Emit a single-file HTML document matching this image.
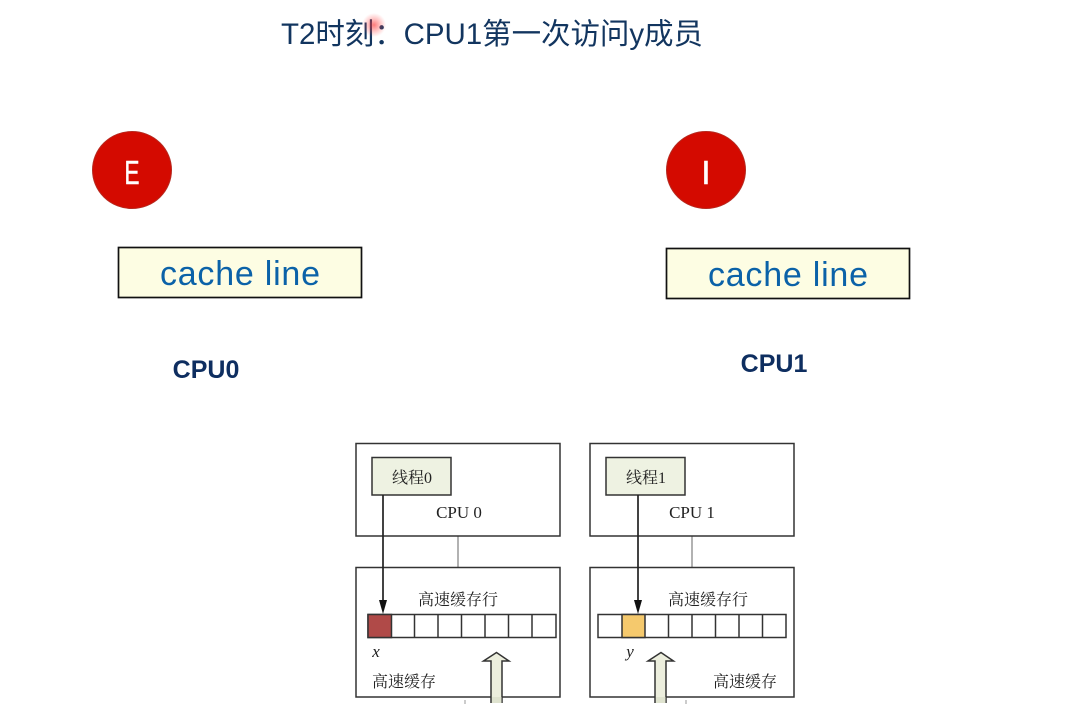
<!DOCTYPE html>
<html>
<head>
<meta charset="utf-8">
<style>
html,body{margin:0;padding:0;background:#fff;}
body{width:1067px;height:711px;overflow:hidden;position:relative;}
svg{position:absolute;left:0;top:0;}
text{white-space:pre;}
</style>
</head>
<body>
<svg width="1067" height="711" viewBox="0 0 1067 711" xmlns="http://www.w3.org/2000/svg">
<defs>
<radialGradient id="glow"><stop offset="0" stop-color="#f33" stop-opacity=".65"/><stop offset="1" stop-color="#f55" stop-opacity="0"/></radialGradient>
</defs>
<rect width="1067" height="711" fill="#fff"/>

<text x="281" y="44" font-family="'Liberation Sans','Noto Sans CJK SC',sans-serif" font-size="29.500" fill="#12355f" textLength="422" lengthAdjust="spacing">T2时刻：CPU1第一次访问y成员</text>
<circle cx="374" cy="25" r="12" fill="url(#glow)"/>

<ellipse cx="132" cy="170" rx="39.500" ry="38.500" fill="#d40a00" stroke="#b52a20"/>
<text x="132" y="184" text-anchor="middle" font-family="'Liberation Sans',sans-serif" font-size="33" fill="#fff" stroke="#fff" stroke-width="0.500" textLength="15" lengthAdjust="spacingAndGlyphs">E</text>
<ellipse cx="706" cy="170" rx="39.500" ry="38.500" fill="#d40a00" stroke="#b52a20"/>
<text x="706" y="184" text-anchor="middle" font-family="'Liberation Sans',sans-serif" font-size="33" fill="#fff" stroke="#fff" stroke-width="0.500">I</text>

<rect x="118.500" y="247.500" width="243" height="50" fill="#fdfde3" stroke="#111" stroke-width="1.700"/>
<text x="240" y="285" text-anchor="middle" font-family="'Liberation Sans',sans-serif" font-size="34" fill="#0b62a8" textLength="160" lengthAdjust="spacing">cache line</text>
<rect x="666.500" y="248.500" width="243" height="50" fill="#fdfde3" stroke="#111" stroke-width="1.700"/>
<text x="788" y="286" text-anchor="middle" font-family="'Liberation Sans',sans-serif" font-size="34" fill="#0b62a8" textLength="160" lengthAdjust="spacing">cache line</text>

<text x="206" y="378" text-anchor="middle" font-family="'Liberation Sans',sans-serif" font-weight="bold" font-size="25" fill="#0e2e60">CPU0</text>
<text x="774" y="372" text-anchor="middle" font-family="'Liberation Sans',sans-serif" font-weight="bold" font-size="25" fill="#0e2e60">CPU1</text>

<!-- left diagram -->
<g font-family="'Liberation Serif','Noto Serif CJK SC',serif" fill="#222">
<line x1="458" y1="536" x2="458" y2="567" stroke="#999" stroke-width="1.500"/>
<rect x="356" y="443.500" width="204" height="92.500" fill="#fff" stroke="#333" stroke-width="1.500"/>
<rect x="356" y="567.500" width="204" height="129.500" fill="#fff" stroke="#333" stroke-width="1.500"/>
<rect x="372" y="457.500" width="79" height="37.500" fill="#eef2e2" stroke="#333" stroke-width="1.500"/>
<text x="412" y="483" text-anchor="middle" font-size="16">线程0</text>
<text x="459" y="518" text-anchor="middle" font-size="17">CPU 0</text>
<text x="458" y="605" text-anchor="middle" font-size="16">高速缓存行</text>
<rect x="368" y="614.500" width="188" height="23" fill="#fff" stroke="#333" stroke-width="1.500"/>
<rect x="368" y="614.500" width="23.500" height="23" fill="#b04a48" stroke="#333" stroke-width="1.500"/>
<path d="M414.500 614.500V637.500M438 614.500V637.500M461.500 614.500V637.500M485 614.500V637.500M508.500 614.500V637.500M532 614.500V637.500" stroke="#333" stroke-width="1.500" fill="none"/>
<line x1="383" y1="495" x2="383" y2="602" stroke="#222" stroke-width="1.700"/>
<path d="M379 600H387L383 614Z" fill="#111"/>
<text x="376" y="657" text-anchor="middle" font-size="17" font-style="italic">x</text>
<text x="404" y="687" text-anchor="middle" font-size="16">高速缓存</text>
<path d="M491 703V661H483.500L496.500 652.500L509 661H502V703" fill="#eceedd" stroke="#333" stroke-width="1.500"/>
<rect x="492" y="697" width="9.500" height="6" fill="#dfe3cf"/>
<line x1="465" y1="700" x2="465" y2="704" stroke="#999"/>

<!-- right diagram -->
<line x1="692" y1="536" x2="692" y2="567" stroke="#999" stroke-width="1.500"/>
<rect x="590" y="443.500" width="204" height="92.500" fill="#fff" stroke="#333" stroke-width="1.500"/>
<rect x="590" y="567.500" width="204" height="129.500" fill="#fff" stroke="#333" stroke-width="1.500"/>
<rect x="606" y="457.500" width="79" height="37.500" fill="#eef2e2" stroke="#333" stroke-width="1.500"/>
<text x="646" y="483" text-anchor="middle" font-size="16">线程1</text>
<text x="692" y="518" text-anchor="middle" font-size="17">CPU 1</text>
<text x="708" y="605" text-anchor="middle" font-size="16">高速缓存行</text>
<rect x="598" y="614.500" width="188" height="23" fill="#fff" stroke="#333" stroke-width="1.500"/>
<rect x="622" y="614.500" width="23" height="23" fill="#f5c96d" stroke="#333" stroke-width="1.500"/>
<path d="M668.500 614.500V637.500M692 614.500V637.500M715.500 614.500V637.500M739 614.500V637.500M762.500 614.500V637.500" stroke="#333" stroke-width="1.500" fill="none"/>
<line x1="638" y1="495" x2="638" y2="602" stroke="#222" stroke-width="1.700"/>
<path d="M634 600H642L638 614Z" fill="#111"/>
<text x="630" y="657" text-anchor="middle" font-size="17" font-style="italic">y</text>
<text x="745" y="687" text-anchor="middle" font-size="16">高速缓存</text>
<path d="M655 703V661H648L661 652.500L673.500 661H666V703" fill="#eceedd" stroke="#333" stroke-width="1.500"/>
<rect x="656" y="697" width="9.500" height="6" fill="#dfe3cf"/>
<line x1="686" y1="700" x2="686" y2="704" stroke="#999"/>
</g>
</svg>
</body>
</html>
